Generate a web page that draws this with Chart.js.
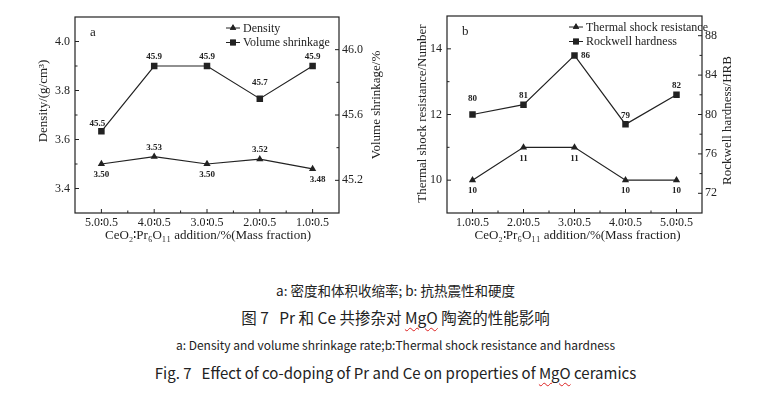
<!DOCTYPE html>
<html>
<head>
<meta charset="utf-8">
<script src="https://cdn.jsdelivr.net/npm/chart.js@4.4.1/dist/chart.umd.min.js"></script>
<style>
  html, body { margin: 0; padding: 0; background: #fff; }
  #wrap { position: relative; width: 773px; height: 398px; overflow: hidden; }
  .panel { position: absolute; top: 0; height: 265px; }
  #panelA { left: 0; width: 390px; }
  #panelB { left: 390px; width: 383px; }
  .cap { position: absolute; left: 9px; width: 773px; text-align: center; white-space: pre;
         font-family: "Noto Sans CJK SC", "Noto Sans", sans-serif; color: #222; line-height: 20px; }
  .wavy { text-decoration: underline wavy #d22; text-decoration-thickness: 1px; text-underline-offset: 3px; }
</style>
</head>
<body>
<div id="wrap">
  <div class="panel" id="panelA"><canvas id="chartA"></canvas></div>
  <div class="panel" id="panelB"><canvas id="chartB"></canvas></div>
  <div class="cap" style="top:280px;font-size:13.5px;">a: 密度和体积收缩率; b: 抗热震性和硬度</div>
  <div class="cap" style="top:307px;font-size:15.5px;">图 7   Pr 和 Ce 共掺杂对 <span class="wavy">MgO</span> 陶瓷的性能影响</div>
  <div class="cap" style="top:335px;font-size:12px;">a: Density and volume shrinkage rate;b:Thermal shock resistance and hardness</div>
  <div class="cap" style="top:363px;font-size:15px;">Fig. 7   Effect of co-doping of Pr and Ce on properties of <span class="wavy">MgO</span> ceramics</div>
</div>
<script>
// panel a
const ratiosA = ['5.0∶0.5', '4.0∶0.5', '3.0∶0.5', '2.0∶0.5', '1.0∶0.5'];
const density = [3.50, 3.53, 3.50, 3.52, 3.48];
const shrinkage = [45.5, 45.9, 45.9, 45.7, 45.9];
const densityTicks = [3.4, 3.6, 3.8, 4.0];
const shrinkageTicks = [45.2, 45.6, 46.0];

// panel b
const ratiosB = ['1.0∶0.5', '2.0∶0.5', '3.0∶0.5', '4.0∶0.5', '5.0∶0.5'];
const thermalShock = [10, 11, 11, 10, 10];
const hardness = [80, 81, 86, 79, 82];
const thermalTicks = [10, 12, 14];
const hardnessTicks = [72, 76, 80, 84, 88];

const INK = '#222';
const SERIF = '"Liberation Serif", "DejaVu Serif", serif';

// where each value label sits relative to its point: [dx, dy]
const LABEL_OFFSET = {
  above: [0, -9], below: [0, 11], right: [11, 0],
  aboveLeft: [-4, -8], belowRight: [5, 11], high: [0, -16]
};

function line(ctx, x1, y1, x2, y2) {
  ctx.beginPath(); ctx.moveTo(x1, y1); ctx.lineTo(x2, y2); ctx.stroke();
}

// frame, inward ticks, legend, value labels, axis titles
const decor = {
  id: 'decor',
  afterDatasetsDraw(chart, args, o) {
    const ctx = chart.ctx, a = chart.chartArea;
    ctx.save();
    ctx.strokeStyle = INK;
    ctx.lineWidth = 1.2;
    ctx.strokeRect(a.left, a.top, a.right - a.left, a.bottom - a.top);

    ctx.lineWidth = 1;
    const x = chart.scales.x;
    x.ticks.forEach((t, i) => {
      const px = x.getPixelForTick(i);
      line(ctx, px, a.bottom, px, a.bottom - 4);
      if (i > 0) {
        const mx = x.getPixelForValue(i - 0.5);
        line(ctx, mx, a.bottom, mx, a.bottom - 2.5);
      }
    });
    ['y', 'y1'].forEach(id => {
      const s = chart.scales[id];
      const edge = id === 'y' ? a.left : a.right;
      const dir = id === 'y' ? 1 : -1;
      const vals = s.ticks.map(t => t.value);
      const half = (vals[1] - vals[0]) / 2;
      vals.forEach(v => {
        const py = s.getPixelForValue(v);
        line(ctx, edge, py, edge + dir * 4, py);
      });
      [vals[0] - half].concat(vals.map(v => v + half)).forEach(v => {
        if (v <= s.min || v >= s.max) return;
        const py = s.getPixelForValue(v);
        line(ctx, edge, py, edge + dir * 2.5, py);
      });
    });

    // value labels
    ctx.fillStyle = INK;
    ctx.font = 'bold 9px ' + SERIF;
    ctx.textAlign = 'center';
    ctx.textBaseline = 'middle';
    chart.data.datasets.forEach((ds, di) => {
      chart.getDatasetMeta(di).data.forEach((pt, i) => {
        const [dx, dy] = LABEL_OFFSET[ds.labelPos[i]];
        ctx.fillText(ds.data[i].toFixed(ds.digits), pt.x + dx, pt.y + dy);
      });
    });

    // legend inside plot area
    ctx.font = '12px ' + SERIF;
    ctx.textAlign = 'left';
    chart.data.datasets.forEach((ds, di) => {
      const lx = a.left + o.legendX, ly = a.top + 11 + di * 14.5;
      ctx.lineWidth = 1;
      line(ctx, lx, ly, lx + 14, ly);
      Chart.helpers.drawPoint(ctx, {pointStyle: ds.pointStyle, radius: ds.pointRadius - 0.5, rotation: 0, borderWidth: 0}, lx + 7, ly);
      ctx.fill();
      ctx.fillText(ds.label, lx + 17, ly + 0.5);
    });

    // panel letter
    ctx.font = '13px ' + SERIF;
    ctx.fillText(o.letter, a.left + 15, a.top + 16);

    // axis titles
    ctx.font = '13px ' + SERIF;
    ctx.textAlign = 'center';
    ctx.fillText(o.xTitle, (a.left + a.right) / 2 + o.xTitleDx, a.bottom + 23);
    [[o.yTitle, a.left - o.yTitleX, o.yTitleDy], [o.y1Title, a.right + o.y1TitleX, o.y1TitleDy]].forEach(([txt, tx, dy]) => {
      ctx.save();
      ctx.translate(tx, (a.top + a.bottom) / 2 + dy);
      ctx.rotate(-Math.PI / 2);
      ctx.fillText(txt, 0, 0);
      ctx.restore();
    });
    ctx.restore();
  }
};

function makeChart(id, cats, d1, d2, t1, t2, fmt, range1, range2, sides, extras) {
  const tickFont = {family: SERIF, size: 12};
  const fixedTicks = vals => scale => { scale.ticks = vals.map(v => ({value: v})); };
  return new Chart(document.getElementById(id), {
    type: 'line',
    data: {
      labels: cats,
      datasets: [
        {
          ...d1,
          yAxisID: 'y',
          borderColor: INK, backgroundColor: INK,
          borderWidth: 1.2, pointStyle: 'triangle', pointRadius: 4.2,
          pointBorderWidth: 0
        },
        {
          ...d2,
          yAxisID: 'y1',
          borderColor: INK, backgroundColor: INK,
          borderWidth: 1.2, pointStyle: 'rect', pointRadius: 4.6,
          pointBorderWidth: 0
        }
      ]
    },
    options: {
      responsive: true,
      maintainAspectRatio: false,
      animation: false,
      layout: {padding: {top: sides.top, left: 0, right: 0, bottom: 0}},
      plugins: {legend: {display: false}, tooltip: {enabled: false}, decor: extras},
      scales: {
        x: {
          type: 'category',
          offset: true,
          grid: {display: false, drawTicks: false},
          border: {display: false},
          ticks: {font: tickFont, color: INK, padding: 3, maxRotation: 0, autoSkip: false},
          afterFit: s => { s.height = sides.bottom; }
        },
        y: {
          position: 'left',
          min: range1[0], max: range1[1],
          grid: {display: false, drawTicks: false},
          border: {display: false},
          afterBuildTicks: fixedTicks(t1),
          ticks: {font: tickFont, color: INK, padding: 5, callback: v => fmt(v)},
          afterFit: s => { s.width = sides.left; }
        },
        y1: {
          position: 'right',
          min: range2[0], max: range2[1],
          grid: {display: false, drawTicks: false},
          border: {display: false},
          afterBuildTicks: fixedTicks(t2),
          ticks: {font: tickFont, color: INK, padding: 3, callback: v => fmt(v)},
          afterFit: s => { s.width = sides.right; }
        }
      }
    },
    plugins: [decor]
  });
}

makeChart('chartA', ratiosA,
  {label: 'Density', data: density, digits: 2, labelPos: ['below', 'above', 'below', 'above', 'belowRight']},
  {label: 'Volume shrinkage', data: shrinkage, digits: 1, labelPos: ['aboveLeft', 'above', 'above', 'high', 'above']},
  densityTicks, shrinkageTicks, v => v.toFixed(1), [3.3, 4.1], [45.0, 46.2],
  {top: 17, bottom: 52, left: 75, right: 51},
  {legendX: 151, letter: 'a',
   xTitle: 'CeO₂∶Pr₆O₁₁ addition/%(Mass fraction)', xTitleDx: 1,
   yTitle: 'Density/(g/cm³)', yTitleX: 31, yTitleDy: -14,
   y1Title: 'Volume shrinkage/%', y1TitleX: 38, y1TitleDy: -10});

makeChart('chartB', ratiosB,
  {label: 'Thermal shock resistance', data: thermalShock, digits: 0, labelPos: ['below', 'below', 'below', 'below', 'below']},
  {label: 'Rockwell hardness', data: hardness, digits: 0, labelPos: ['high', 'above', 'right', 'above', 'above']},
  thermalTicks, hardnessTicks, v => String(v), [9, 15], [70, 90],
  {top: 16, bottom: 52, left: 57, right: 71},
  {legendX: 122, letter: 'b',
   xTitle: 'CeO₂∶Pr₆O₁₁ addition/%(Mass fraction)', xTitleDx: 3,
   yTitle: 'Thermal shock resistance/Number', yTitleX: 24, yTitleDy: -1,
   y1Title: 'Rockwell hardness/HRB', y1TitleX: 26, y1TitleDy: 6});
</script>
</body>
</html>
